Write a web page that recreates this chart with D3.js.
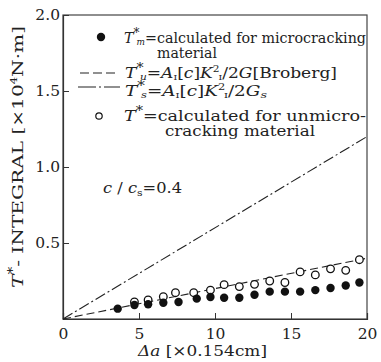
<!DOCTYPE html>
<html>
<head>
<meta charset="utf-8">
<script src="https://cdn.jsdelivr.net/npm/d3@7"></script>
<style>
  body { margin: 0; background: #fff; }
  svg text { font-family: "DejaVu Serif", serif; }
</style>
</head>
<body>
<div id="chart"></div>
<script>
// crack extension (x 0.154 cm)
const daFilled = [3.6, 4.7, 5.6, 6.6, 7.6, 8.8, 9.7, 10.6, 11.6, 12.6, 13.6, 14.6, 15.6, 16.6, 17.6, 18.6, 19.5];
// T*m, microcracking material
const tmValues = [0.068, 0.092, 0.097, 0.107, 0.112, 0.134, 0.145, 0.14, 0.14, 0.16, 0.18, 0.18, 0.18, 0.19, 0.204, 0.22, 0.24];
const daOpen = [4.7, 5.6, 6.6, 7.4, 8.6, 9.7, 10.6, 11.6, 12.6, 13.6, 14.6, 15.6, 16.6, 17.6, 18.6, 19.5];
// T*, unmicrocracking material
const tValues = [0.112, 0.125, 0.147, 0.173, 0.173, 0.19, 0.226, 0.213, 0.228, 0.25, 0.24, 0.31, 0.29, 0.33, 0.32, 0.39];
// theory lines
const lineDa = [0, 20];
const tuLine = [0, 0.4];   // Broberg
const tsLine = [0, 1.2];

const xTicks = [0, 5, 10, 15, 20];
const yTicks = [0.5, 1.0, 1.5, 2.0];

const margin = {top: 15, right: 14, bottom: 43, left: 63};
const W = 381, H = 362;
const width = W - margin.left - margin.right;
const height = H - margin.top - margin.bottom;

const svg = d3.select('#chart').append('svg').attr('width', W).attr('height', H);
const g = svg.append('g').attr('transform', 'translate(' + margin.left + ',' + margin.top + ')');

const x = d3.scaleLinear().domain([0, 20]).range([0, width]);
const y = d3.scaleLinear().domain([0, 2]).range([height, 0]);

// frame
g.append('rect').attr('width', width).attr('height', height)
  .attr('fill', 'none').attr('stroke', '#444').attr('stroke-width', 1.2);

// axes with inward ticks
const xAxis = g.append('g').attr('transform', 'translate(0,' + height + ')')
  .call(d3.axisBottom(x).tickValues(xTicks).tickSize(-6).tickPadding(9).tickFormat(d3.format('d')));
const yAxis = g.append('g')
  .call(d3.axisLeft(y).tickValues(yTicks).tickSize(-6).tickPadding(3).tickFormat(d3.format('.1f')));
[xAxis, yAxis].forEach(a => {
  a.attr('font-family', null);
  a.select('.domain').attr('stroke', '#333').attr('stroke-width', 1.2);
  a.selectAll('.tick line').attr('stroke', '#333');
  a.selectAll('.tick text').attr('font-size', 15.5).attr('fill', '#222');
});
xAxis.selectAll('.tick').filter(d => d === 0 || d === 20).select('line').remove();

// theory lines
const line = d3.line().x(d => x(d[0])).y(d => y(d[1]));
g.append('path').datum(d3.zip(lineDa, tuLine)).attr('d', line)
  .attr('fill', 'none').attr('stroke', '#222').attr('stroke-width', 1.1).attr('stroke-dasharray', '8,4');
g.append('path').datum(d3.zip(lineDa, tsLine)).attr('d', line)
  .attr('fill', 'none').attr('stroke', '#222').attr('stroke-width', 1.1).attr('stroke-dasharray', '11,3,2,3');

// points
g.selectAll('circle.open').data(d3.zip(daOpen, tValues)).join('circle')
  .attr('class', 'open').attr('cx', d => x(d[0])).attr('cy', d => y(d[1])).attr('r', 3.8)
  .attr('fill', '#fff').attr('stroke', '#111').attr('stroke-width', 1.3);
g.selectAll('circle.filled').data(d3.zip(daFilled, tmValues)).join('circle')
  .attr('class', 'filled').attr('cx', d => x(d[0])).attr('cy', d => y(d[1])).attr('r', 4.2)
  .attr('fill', '#111');

// rich text helper: segments [text, opts], stretched to a given length
function rich(sel, px, py, segs, size, len) {
  const t = sel.append('text').attr('x', px).attr('y', py).attr('font-size', size).attr('fill', '#222');
  segs.forEach(s => {
    const o = s[1] || {};
    const sp = t.append('tspan').text(s[0]);
    if (o.i) sp.attr('font-style', 'italic');
    if (o.dy) sp.attr('dy', o.dy);
    if (o.dx) sp.attr('dx', o.dx);
    if (o.fs) sp.attr('font-size', o.fs);
  });
  if (len) t.attr('textLength', len).attr('lengthAdjust', 'spacingAndGlyphs');
  return t;
}

const fs = 14.5;
// legend
svg.append('circle').attr('cx', 101).attr('cy', 37).attr('r', 4.2).attr('fill', '#111');
rich(svg, 124, 43, [['T', {i: 1}], ['*', {dy: -6, fs: 12}], ['m', {i: 1, dx: -3, dy: 8, fs: 9}], ['=calculated for microcracking', {dy: -2}]], fs, 242);
rich(svg, 157, 58, [['material']], fs, 60);

svg.append('line').attr('x1', 80).attr('x2', 116).attr('y1', 73).attr('y2', 73)
  .attr('stroke', '#222').attr('stroke-width', 1.1).attr('stroke-dasharray', '9,4');
rich(svg, 125, 78, [['T', {i: 1}], ['*', {dy: -6, fs: 12}], ['u', {i: 1, dx: -3, dy: 8, fs: 9}], ['=', {dy: -2}],
  ['A', {i: 1}], ['I', {dy: 2, fs: 8}], ['[', {dy: -2}], ['c', {i: 1}], [']'], ['K', {i: 1}], ['2', {dy: -6, fs: 9}], ['I', {dx: -1, dy: 8, fs: 8}],
  ['/2', {dy: -2}], ['G', {i: 1}], ['[Broberg]']], fs, 212);

svg.append('line').attr('x1', 78).attr('x2', 120).attr('y1', 87).attr('y2', 87)
  .attr('stroke', '#222').attr('stroke-width', 1.1).attr('stroke-dasharray', '18,3,2,3');
rich(svg, 125, 96, [['T', {i: 1}], ['*', {dy: -6, fs: 12}], ['s', {i: 1, dx: -3, dy: 8, fs: 9}], ['=', {dy: -2}],
  ['A', {i: 1}], ['I', {dy: 2, fs: 8}], ['[', {dy: -2}], ['c', {i: 1}], [']'], ['K', {i: 1}], ['2', {dy: -6, fs: 9}], ['I', {dx: -1, dy: 8, fs: 8}],
  ['/2', {dy: -2}], ['G', {i: 1}], ['s', {i: 1, dy: 2, fs: 10}]], fs, 142);

svg.append('circle').attr('cx', 99).attr('cy', 116).attr('r', 3.2)
  .attr('fill', '#fff').attr('stroke', '#111').attr('stroke-width', 1.2);
rich(svg, 124, 121, [['T', {i: 1}], ['*', {dy: -6, fs: 12}], ['=calculated for unmicro-', {dy: 6}]], fs, 242);
rich(svg, 165, 136, [['cracking material']], fs, 150);

// annotation
rich(svg, 103, 193, [['c', {i: 1}], [' / '], ['c', {i: 1}], ['s', {dy: 3, fs: 10}], ['=0.4', {dy: -3}]], 15, 79);

// axis titles
rich(svg, 138, 356, [['Δ', {i: 1}], ['a', {i: 1}], [' [×0.154cm]']], 15.5, 129);
rich(svg, 0, 0, [['T', {i: 1}], ['*', {dy: -6, fs: 12}], ['- INTEGRAL [×10', {dy: 6}], ['4', {dy: -6, fs: 9}], ['N·m]', {dy: 6}]], 15.5, 262)
  .attr('transform', 'translate(23,288) rotate(-90)');
</script>
</body>
</html>
